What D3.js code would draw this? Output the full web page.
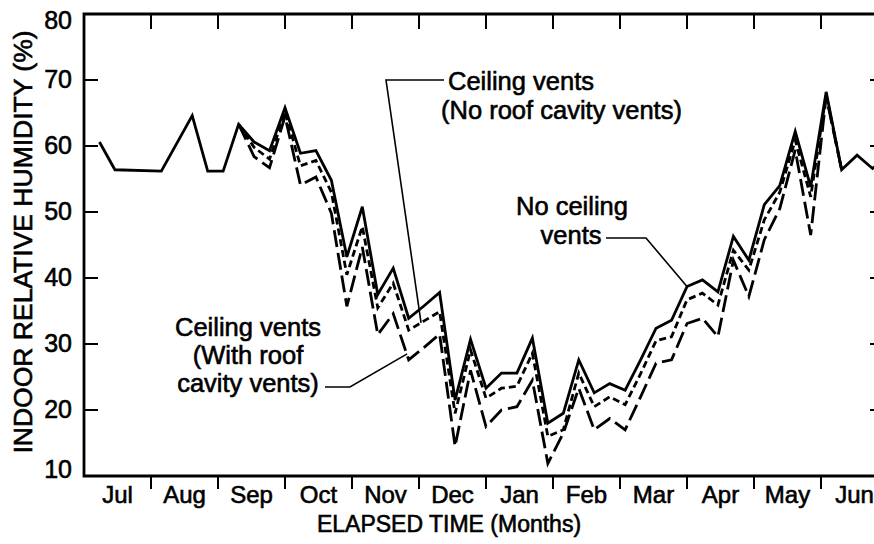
<!DOCTYPE html>
<html lang="en">
<head>
    <meta charset="UTF-8">
    <title>Indoor relative humidity</title>
    <script src="https://cdn.jsdelivr.net/npm/d3@7"></script>
    <style>
        html, body { margin: 0; padding: 0; background: #fff; }
        svg text {
            font-family: "Liberation Sans", Arial, Helvetica, sans-serif;
            fill: #000;
            stroke: #000;
            stroke-width: 0.6px;
        }
    </style>
</head>
<body>
<div class="chart"></div>

<script type="text/javascript">
    // month labels, one per month starting in July
    var months = ['Jul', 'Aug', 'Sep', 'Oct', 'Nov', 'Dec', 'Jan', 'Feb', 'Mar', 'Apr', 'May', 'Jun'];
    var yTicks = [10, 20, 30, 40, 50, 60, 70, 80];

    // weekly readings (week number from 1 July)
    var weeks = [1, 2, 5, 7, 8, 9, 10, 11, 12, 13, 14, 15, 16, 17, 18, 19, 20, 21, 22, 23, 24, 25,
        26, 27, 28, 29, 30, 31, 32, 33, 34, 35, 36, 37, 38, 39, 40, 41, 42, 43, 44, 45, 46, 47, 48,
        49, 50, 51, 52];
    var noCeilingVents = [60.6, 56.4, 56.2, 64.6, 56.2, 56.2, 63.3, 60.6, 59.3, 65.8, 58.9, 59.3,
        54.8, 43.2, 50.8, 37.5, 41.5, 33.9, 35.8, 37.8, 21.5, 30.7, 23.3, 25.6, 25.6, 30.9, 18.0,
        19.5, 27.6, 22.6, 24.0, 23.0, 27.6, 32.4, 33.6, 38.7, 39.7, 37.9, 46.3, 42.7, 51.1, 54.0,
        62.2, 53.8, 68.2, 56.4, 58.6, 56.6, 58.5];

    // vented houses only differ from week 10 on
    var ventWeeks = [10, 11, 12, 13, 14, 15, 16, 17, 18, 19, 20, 21, 22, 23, 24, 25, 26, 27, 28,
        29, 30, 31, 32, 33, 34, 35, 36, 37, 38, 39, 40, 41, 42, 43, 44, 45, 46, 47, 48, 49];
    var ventsNoRoof = [63.3, 59.8, 58.0, 65.2, 57.0, 57.8, 53.0, 40.5, 47.8, 35.5, 39.2, 32.1,
        33.5, 34.9, 19.5, 29.1, 21.8, 23.3, 23.6, 28.6, 16.0, 17.0, 25.6, 20.5, 22.0, 20.8, 25.5,
        30.5, 31.1, 36.7, 37.7, 35.9, 44.2, 41.2, 48.8, 53.0, 60.9, 52.3, 67.8, 56.4];
    var ventsWithRoof = [63.3, 58.4, 56.7, 64.5, 54.1, 55.3, 49.8, 35.7, 44.7, 31.4, 34.6, 27.6,
        29.5, 31.5, 14.5, 26.0, 17.5, 20.0, 20.5, 24.5, 11.9, 16.5, 23.3, 17.0, 18.7, 17.0, 22.0,
        27.1, 27.6, 33.1, 33.9, 31.1, 42.7, 37.2, 45.8, 50.5, 59.4, 46.5, 67.5, 56.4];

    var w = 874;
    var h = 544;
    var plotLeft = 84, plotRight = 888, plotTop = 14, plotBottom = 476;

    var svg = d3.select('.chart').append('svg')
            .attr('width', w)
            .attr('height', h);

    var x = d3.scaleLinear().domain([0, 52]).range([plotLeft, plotRight]);
    var y = d3.scaleLinear().domain([10, 80]).range([plotBottom, plotTop]);
    var monthAt = function(i) { return i * 52 / 12; };

    var frame = svg.append('g')
            .attr('stroke', '#000')
            .attr('fill', 'none');

    // frame: left, bottom, top and right (right edge is cut off by the window)
    frame.append('path')
            .attr('d', 'M' + x(52) + ',' + y(80) + 'H' + x(0) + 'V' + y(10) + 'H' + x(52) + 'V' + y(80))
            .attr('stroke-width', 2.8);

    // y ticks on the left and right, pointing inward
    yTicks.slice(1, -1).forEach(function(v) {
        frame.append('line')
                .attr('x1', x(0)).attr('x2', x(0) + 14)
                .attr('y1', y(v)).attr('y2', y(v))
                .attr('stroke-width', 2);
        frame.append('line')
                .attr('x1', x(52)).attr('x2', x(52) - 18)
                .attr('y1', y(v)).attr('y2', y(v))
                .attr('stroke-width', 2);
    });

    // month boundary ticks: below the bottom axis and down from the top
    d3.range(1, 12).forEach(function(i) {
        frame.append('line')
                .attr('x1', x(monthAt(i))).attr('x2', x(monthAt(i)))
                .attr('y1', y(10)).attr('y2', y(10) + 13)
                .attr('stroke-width', 2);
        frame.append('line')
                .attr('x1', x(monthAt(i))).attr('x2', x(monthAt(i)))
                .attr('y1', y(80)).attr('y2', y(80) + 15)
                .attr('stroke-width', 2);
    });

    // end labels sit a little inside the frame corners
    svg.selectAll('text.ylab')
            .data(yTicks)
            .enter()
            .append('text')
            .attr('class', 'ylab')
            .attr('x', x(0) - 12)
            .attr('y', function(d) {
                var shift = d === 80 ? 7 : (d === 10 ? -6 : 0);
                return y(d) + 8 + shift;
            })
            .attr('text-anchor', 'end')
            .attr('font-size', 25)
            .text(function(d) { return d; });

    svg.selectAll('text.xlab')
            .data(months)
            .enter()
            .append('text')
            .attr('class', 'xlab')
            .attr('x', function(d, i) { return x(monthAt(i + 0.5)); })
            .attr('y', 503)
            .attr('text-anchor', 'middle')
            .attr('font-size', 24)
            .text(function(d) { return d; });

    svg.append('text')
            .attr('x', 449)
            .attr('y', 532)
            .attr('text-anchor', 'middle')
            .attr('font-size', 23)
            .text('ELAPSED TIME (Months)');

    svg.append('text')
            .attr('transform', 'translate(32,242) rotate(-90)')
            .attr('text-anchor', 'middle')
            .attr('font-size', 26.5)
            .text('INDOOR RELATIVE HUMIDITY (%)');

    // the three series
    var line = d3.line()
            .x(function(d) { return x(d[0]); })
            .y(function(d) { return y(d[1]); });

    var series = [
        { wk: ventWeeks, v: ventsWithRoof, dash: '17,6' },
        { wk: ventWeeks, v: ventsNoRoof, dash: '7,4' },
        { wk: weeks, v: noCeilingVents, dash: null }
    ];

    svg.selectAll('path.series')
            .data(series)
            .enter()
            .append('path')
            .attr('class', 'series')
            .attr('d', function(s) { return line(d3.zip(s.wk, s.v)); })
            .attr('fill', 'none')
            .attr('stroke', '#000')
            .attr('stroke-width', 2.8)
            .attr('stroke-linejoin', 'miter')
            .attr('stroke-dasharray', function(s) { return s.dash; });

    // labels and leader lines
    var notes = svg.append('g').attr('font-size', 25.5);

    notes.append('text').attr('x', 448).attr('y', 90).text('Ceiling vents');
    notes.append('text').attr('x', 441).attr('y', 119).text('(No roof cavity vents)');
    notes.append('text').attr('x', 572).attr('y', 215).attr('text-anchor', 'middle').text('No ceiling');
    notes.append('text').attr('x', 571).attr('y', 244).attr('text-anchor', 'middle').text('vents');
    notes.append('text').attr('x', 248).attr('y', 336).attr('text-anchor', 'middle').text('Ceiling vents');
    notes.append('text').attr('x', 248).attr('y', 364).attr('text-anchor', 'middle').text('(With roof');
    notes.append('text').attr('x', 248).attr('y', 392).attr('text-anchor', 'middle').text('cavity vents)');

    var leader = d3.line();
    var leaders = [
        [[444, 80], [386, 80], [x(21.8), y(33.2)]],
        [[606, 238], [646, 238], [x(39), y(38.7)]],
        [[325, 387], [350, 387], [x(20.9), y(28.5)]]
    ];
    svg.selectAll('path.leader')
            .data(leaders)
            .enter()
            .append('path')
            .attr('class', 'leader')
            .attr('d', leader)
            .attr('fill', 'none')
            .attr('stroke', '#000')
            .attr('stroke-width', 1.6);
</script>
</body>
</html>
